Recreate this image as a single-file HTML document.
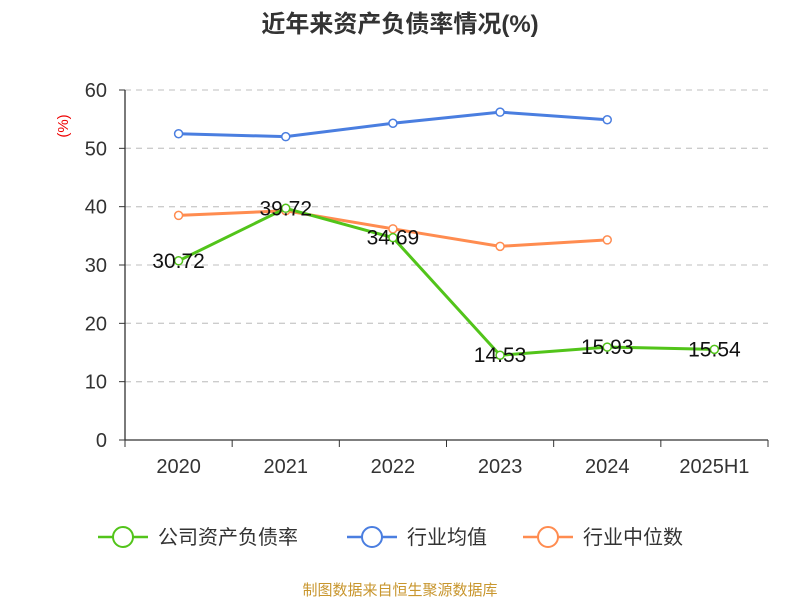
<!DOCTYPE html>
<html><head><meta charset="utf-8"><style>
body{margin:0;background:#fff;font-family:"Liberation Sans","Noto Sans CJK SC",sans-serif;}
</style></head><body>
<svg id="c" width="800" height="600" xmlns="http://www.w3.org/2000/svg" font-family="Liberation Sans, Noto Sans CJK SC, sans-serif">
<text x="400" y="32" text-anchor="middle" font-size="24" font-weight="bold" fill="#333">近年来资产负债率情况(%)</text>
<text x="0" y="0" transform="translate(68,126) rotate(-90)" text-anchor="middle" font-size="15" fill="#e00">(%)</text>
<g id="grid"></g><g id="axes"></g><g id="series"></g>
<g font-size="20" fill="#333">
<g><line x1="98" y1="537" x2="148" y2="537" stroke="#52c41a" stroke-width="2.5"/><circle cx="123" cy="537" r="10" fill="#fff" stroke="#52c41a" stroke-width="2"/><text x="158" y="544">公司资产负债率</text></g>
<g><line x1="347" y1="537" x2="397" y2="537" stroke="#4a7ee0" stroke-width="2.5"/><circle cx="372" cy="537" r="10" fill="#fff" stroke="#4a7ee0" stroke-width="2"/><text x="407" y="544">行业均值</text></g>
<g><line x1="523" y1="537" x2="573" y2="537" stroke="#ff8c50" stroke-width="2.5"/><circle cx="548" cy="537" r="10" fill="#fff" stroke="#ff8c50" stroke-width="2"/><text x="583" y="544">行业中位数</text></g>
</g>
<text x="400" y="595" text-anchor="middle" font-size="15" fill="#c8962e">制图数据来自恒生聚源数据库</text>
</svg>
<script>
const categories=["2020","2021","2022","2023","2024","2025H1"];
const company=[30.72,39.72,34.69,14.53,15.93,15.54];
const industryAvg=[52.5,52.0,54.3,56.2,54.9];
const industryMedian=[38.5,39.3,36.2,33.2,34.3];
const yTicks=[0,10,20,30,40,50,60];
const NS="http://www.w3.org/2000/svg";
const L=125,R=768,T=90,B=440,ymax=60;
const bw=(R-L)/categories.length;
const x=i=>L+bw*(i+0.5);
const y=v=>B-(v/ymax)*(B-T);
function mk(tag,attrs,parent,text){const e=document.createElementNS(NS,tag);for(const k in attrs)e.setAttribute(k,attrs[k]);if(text!==undefined)e.textContent=text;document.getElementById(parent).appendChild(e);return e;}
yTicks.forEach(t=>{
  if(t>0){const g=mk('line',{x1:L,x2:R,y1:y(t),y2:y(t),stroke:'#ccc','stroke-dasharray':'6,5','stroke-width':1.3},'grid');
  
  }
  const tk=mk('line',{x1:L-6,x2:L,y1:y(t),y2:y(t),stroke:'#333'},'axes');
  
  
  const lb=mk('text',{x:L-18,y:y(t)+7,'text-anchor':'end','font-size':20,fill:'#333'},'axes',t);
  
  
});
const ya=mk('line',{x1:L,x2:L,y1:T,y2:B,stroke:'#333','stroke-width':1.3},'axes');


const xa=mk('line',{x1:L,x2:R,y1:B,y2:B,stroke:'#333','stroke-width':1.3},'axes');


for(let i=0;i<=categories.length;i++){const tk=mk('line',{x1:L+bw*i,x2:L+bw*i,y1:B,y2:B+7,stroke:'#333'},'axes');

}
categories.forEach((c,i)=>{const lb=mk('text',{x:x(i),y:B+33,'text-anchor':'middle','font-size':20,fill:'#333'},'axes',c);

});
function series(data,color,name,labels){
  const pts=data.map((v,i)=>x(i)+','+y(v)).join(' ');
  const pl=mk('polyline',{points:pts,fill:'none',stroke:color,'stroke-width':3},'series');
  
  
  data.forEach((v,i)=>{const c=mk('circle',{cx:x(i),cy:y(v),r:4,fill:'#fff',stroke:color,'stroke-width':1.5},'series');
  
  
  if(labels){const t=mk('text',{x:x(i),y:y(v)+7,'text-anchor':'middle','font-size':21,fill:'#111'},'series',v.toFixed(2));
  
  }});
}
series(industryAvg,'#4a7ee0','industry-avg',false);
series(industryMedian,'#ff8c50','industry-median',false);
series(company,'#52c41a','company',true);
</script>
</body></html>
